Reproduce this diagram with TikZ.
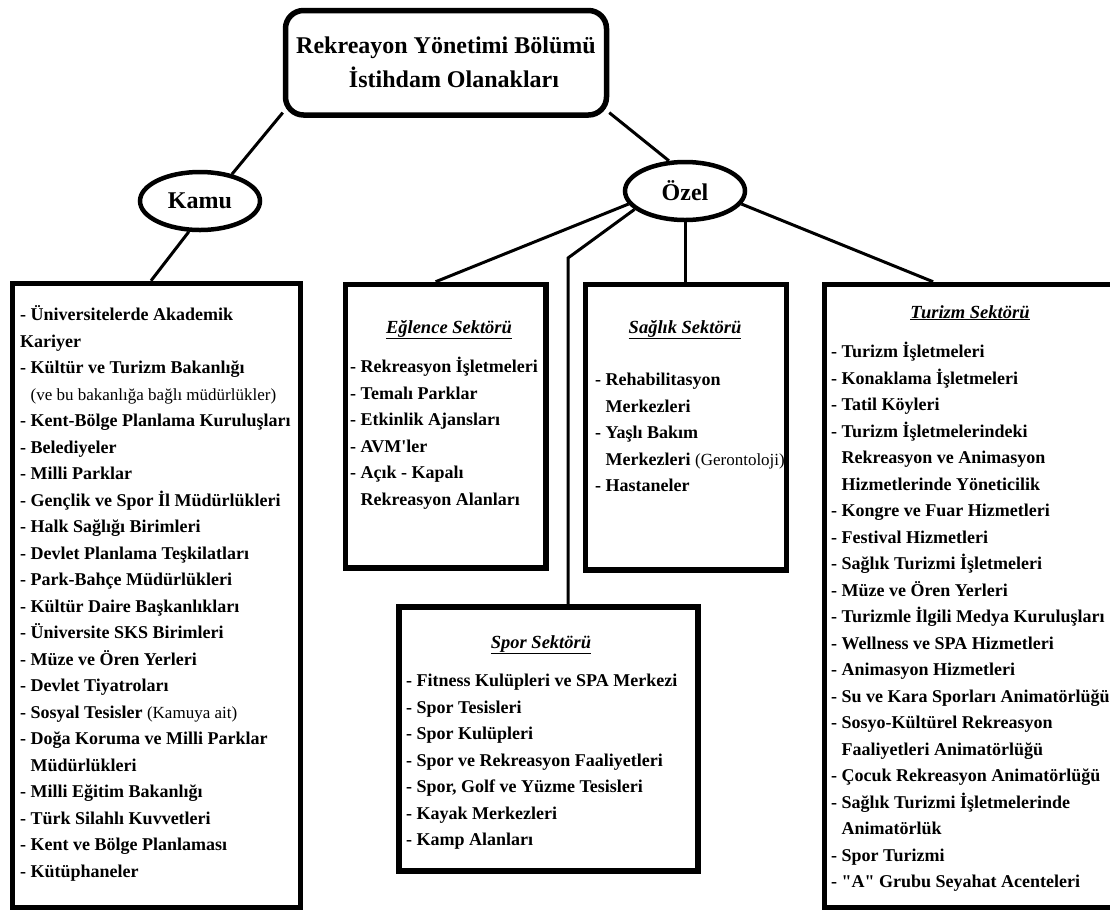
\documentclass[tikz,border=0pt]{standalone}
\usepackage{fontspec}
\setmainfont{Liberation Serif}[Ligatures=TeXOff]
\usetikzlibrary{shapes.geometric}
\tikzset{
	rootbox/.style={draw, line width=5.5pt, rounded corners=18pt, minimum width=321pt, minimum height=104.5pt, align=center, font=\fontsize{24}{34}\selectfont\bfseries},
	branch/.style={draw, ellipse, line width=4.5pt, minimum width=120pt, minimum height=58pt, inner sep=0pt, font=\fontsize{24}{28}\selectfont\bfseries},
	listbox/.style={draw, line width=5.5pt, inner sep=0pt},
	sectorhead/.style={anchor=base, inner sep=0pt, font=\fontsize{18.5}{22}\selectfont\bfseries\itshape},
	itemtext/.style={anchor=north west, inner sep=0pt, align=left, font=\fontsize{18}{26.5}\selectfont\bfseries},
	link/.style={line width=3pt}
}
\newcommand{\plainpart}[1]{{\fontsize{17}{26.5}\selectfont\mdseries #1}}
\begin{document}
\begin{tikzpicture}[x=1pt,y=-1pt]
	\useasboundingbox (0,0) rectangle (1110,911);
	\node[rootbox] (root) at (446,62.75) {Rekreayon Yönetimi Bölümü\\ \hspace*{16pt}İstihdam Olanakları};
	\node[branch] (kamu) at (200,201) {Kamu};
	\node[branch] (ozel) at (685,191) {Özel};
	\node[listbox, minimum width=288pt, minimum height=624pt] (kamubox) at (156.5,595.5) {};
	\node[listbox, minimum width=200.5pt, minimum height=283.5pt] (eglencebox) at (445.75,426.25) {};
	\node[listbox, minimum width=201pt, minimum height=285.5pt] (saglikbox) at (686,427.25) {};
	\node[listbox, minimum width=299pt, minimum height=264pt] (sporbox) at (548.5,739) {};
	\node[listbox, minimum width=305.5pt, minimum height=623pt] (turizmbox) at (977.25,596) {};
	\coordinate (sporbend) at (568,258);

	\draw[link] (root.197) -- (kamu.40);
	\draw[link] (root.-17) -- (ozel.118);
	\draw[link] (kamu.250) -- (kamubox.91.4);
	\draw[link] (ozel.193) -- (eglencebox.94.3);
	\draw[link] (ozel.200) -- (sporbend) -- (sporbend |- sporbox.north);
	\draw[link] (ozel.south) -- (ozel.south |- saglikbox.north);
	\draw[link] (ozel.-13) -- (turizmbox.98.4);

	\node[itemtext] (kamulist) at (20,302) {\strut- Üniversitelerde Akademik\\
		Kariyer\\
		- Kültür ve Turizm Bakanlığı\\
		\phantom{- }\plainpart{(ve bu bakanlığa bağlı müdürlükler)}\\
		- Kent-Bölge Planlama Kuruluşları\\
		- Belediyeler\\
		- Milli Parklar\\
		- Gençlik ve Spor İl Müdürlükleri\\
		- Halk Sağlığı Birimleri\\
		- Devlet Planlama Teşkilatları\\
		- Park-Bahçe Müdürlükleri\\
		- Kültür Daire Başkanlıkları\\
		- Üniversite SKS Birimleri\\
		- Müze ve Ören Yerleri\\
		- Devlet Tiyatroları\\
		- Sosyal Tesisler \plainpart{(Kamuya ait)}\\
		- Doğa Koruma ve Milli Parklar\\
		\phantom{- }Müdürlükleri\\
		- Milli Eğitim Bakanlığı\\
		- Türk Silahlı Kuvvetleri\\
		- Kent ve Bölge Planlaması\\
		- Kütüphaneler};

	\node[sectorhead] (eglencehead) at (449,333) {\underline{Eğlence Sektörü}};
	\node[itemtext] (eglencelist) at (350,354) {\strut- Rekreasyon İşletmeleri\\
		- Temalı Parklar\\
		- Etkinlik Ajansları\\
		- AVM'ler\\
		- Açık - Kapalı\\
		\phantom{- }Rekreasyon Alanları};

	\node[sectorhead] (saglikhead) at (685,333) {\underline{Sağlık Sektörü}};
	\node[itemtext] (sagliklist) at (595,367) {\strut- Rehabilitasyon\\
		\phantom{- }Merkezleri\\
		- Yaşlı Bakım\\
		\phantom{- }Merkezleri \plainpart{(Gerontoloji)}\\
		- Hastaneler};

	\node[sectorhead] (sporhead) at (541,648) {\underline{Spor Sektörü}};
	\node[itemtext] (sporlist) at (406,668) {\strut- Fitness Kulüpleri ve SPA Merkezi\\
		- Spor Tesisleri\\
		- Spor Kulüpleri\\
		- Spor ve Rekreasyon Faaliyetleri\\
		- Spor, Golf ve Yüzme Tesisleri\\
		- Kayak Merkezleri\\
		- Kamp Alanları};

	\node[sectorhead] (turizmhead) at (970,318) {\underline{Turizm Sektörü}};
	\node[itemtext] (turizmlist) at (831,339) {\strut- Turizm İşletmeleri\\
		- Konaklama İşletmeleri\\
		- Tatil Köyleri\\
		- Turizm İşletmelerindeki\\
		\phantom{- }Rekreasyon ve Animasyon\\
		\phantom{- }Hizmetlerinde Yöneticilik\\
		- Kongre ve Fuar Hizmetleri\\
		- Festival Hizmetleri\\
		- Sağlık Turizmi İşletmeleri\\
		- Müze ve Ören Yerleri\\
		- Turizmle İlgili Medya Kuruluşları\\
		- Wellness ve SPA Hizmetleri\\
		- Animasyon Hizmetleri\\
		- Su ve Kara Sporları Animatörlüğü\\
		- Sosyo-Kültürel Rekreasyon\\
		\phantom{- }Faaliyetleri Animatörlüğü\\
		- Çocuk Rekreasyon Animatörlüğü\\
		- Sağlık Turizmi İşletmelerinde\\
		\phantom{- }Animatörlük\\
		- Spor Turizmi\\
		- "A" Grubu Seyahat Acenteleri};
\end{tikzpicture}
\end{document}
